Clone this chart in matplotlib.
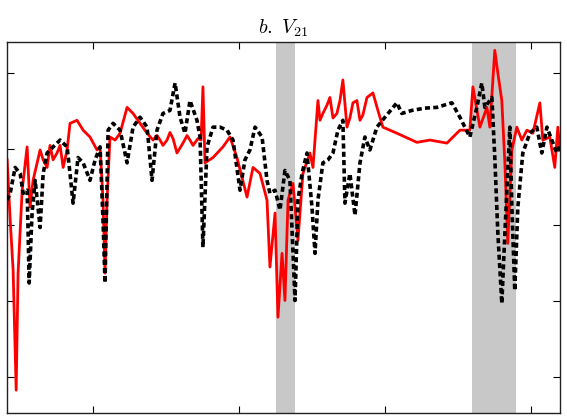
import matplotlib
matplotlib.use("Agg")
import matplotlib.pyplot as plt

plt.rcParams['mathtext.fontset'] = 'cm'

# serie roja (linea continua)
t_rojo = [1974.11, 1974.32, 1974.52, 1974.73, 1974.86, 1975.14, 1975.48, 1975.68, 1975.89, 1976.37,
          1976.58, 1976.85, 1977.05, 1977.26, 1977.53, 1977.74, 1977.95, 1978.22, 1978.42, 1978.90,
          1979.32, 1979.79, 1980.27, 1980.48, 1980.68, 1980.82, 1980.96, 1981.16, 1981.51, 1981.85,
          1982.33, 1982.74, 1983.22, 1983.70, 1984.11, 1984.38, 1984.59, 1984.79, 1985.07, 1985.27,
          1985.48, 1985.75, 1986.16, 1986.44, 1986.64, 1986.85, 1987.19, 1987.40, 1987.53, 1987.67,
          1988.22, 1988.90, 1989.38, 1989.86, 1990.55, 1990.96, 1991.44, 1991.92, 1992.12, 1992.47,
          1992.67, 1992.95, 1993.15, 1993.36, 1993.70, 1994.04, 1994.38, 1994.86, 1995.07, 1995.41,
          1995.55, 1995.75, 1996.03, 1996.23, 1996.44, 1996.71, 1996.92, 1997.12, 1997.40, 1997.60,
          1997.81, 1998.08, 1998.29, 1998.49, 1998.77, 1999.18, 1999.52, 1999.86, 2000.82, 2002.19,
          2003.08, 2004.25, 2005.14, 2005.82, 2006.03, 2006.51, 2006.99, 2007.19, 2007.53, 2007.74,
          2008.01, 2008.22, 2008.42, 2008.70, 2009.04, 2009.38, 2009.73, 2010.14, 2010.62, 2010.82,
          2011.30, 2011.64, 2011.85, 2011.99]
v_rojo = [-0.14, -0.93, -1.59, -3.17, -1.63, -0.54, 0.03, -0.76, -0.41, -0.01,
          -0.14, -0.24, 0.05, -0.14, -0.05, 0.05, -0.24, -0.01, 0.34, 0.38,
          0.25, 0.16, -0.01, 0.03, -0.67, -1.63, -0.67, 0.16, 0.12, 0.21,
          0.55, 0.47, 0.34, 0.21, 0.12, 0.18, 0.12, 0.05, 0.12, 0.22,
          0.14, -0.05, 0.08, 0.18, 0.12, 0.05, 0.14, 0.12, 0.82, -0.18,
          -0.11, 0.03, 0.16, -0.11, -0.63, -0.24, -0.32, -0.67, -1.55, -0.84,
          -2.21, -1.37, -1.99, -0.67, -0.45, -1.20, -0.32, -0.05, -0.24, 0.64,
          0.38, 0.47, 0.58, 0.68, 0.41, 0.47, 0.64, 0.91, 0.29, 0.41,
          0.61, 0.64, 0.38, 0.45, 0.68, 0.74, 0.51, 0.29, 0.21, 0.09,
          0.12, 0.08, 0.25, 0.25, 0.82, 0.29, 0.55, 0.29, 1.30, 1.00,
          0.64, -0.18, -1.24, -0.01, 0.29, 0.12, 0.25, 0.21, 0.61, 0.12,
          0.16, -0.24, 0.29, -0.01]

# serie negra (linea discontinua)
t_negro = [1974.11, 1974.32, 1974.66, 1975.00, 1975.21, 1975.48, 1975.55, 1975.62, 1975.82, 1976.03,
           1976.37, 1976.58, 1976.85, 1977.26, 1977.74, 1978.22, 1978.42, 1978.63, 1978.97, 1979.32,
           1979.79, 1980.14, 1980.48, 1980.68, 1980.82, 1981.03, 1981.37, 1981.85, 1982.33, 1982.74,
           1983.22, 1983.70, 1984.04, 1984.38, 1984.79, 1985.27, 1985.62, 1985.96, 1986.30, 1986.64,
           1987.12, 1987.33, 1987.53, 1987.81, 1988.22, 1988.70, 1989.18, 1989.59, 1990.07, 1990.41,
           1990.75, 1991.10, 1991.58, 1991.92, 1992.12, 1992.47, 1992.81, 1993.15, 1993.49, 1993.84,
           1994.04, 1994.32, 1994.66, 1995.00, 1995.21, 1995.41, 1995.75, 1996.10, 1996.44, 1996.78,
           1997.12, 1997.26, 1997.60, 1997.95, 1998.29, 1998.63, 1998.97, 1999.45, 2000.00, 2000.82,
           2001.16, 2001.85, 2002.74, 2003.56, 2004.59, 2005.14, 2005.82, 2006.30, 2006.64, 2006.85,
           2007.33, 2007.53, 2007.74, 2008.01, 2008.22, 2008.56, 2008.70, 2008.90, 2009.11, 2009.45,
           2009.93, 2010.41, 2010.75, 2011.10, 2011.44, 2011.78, 2011.99]
v_negro = [-0.67, -0.58, -0.24, -0.32, -0.58, -0.54, -1.11, -1.76, -0.84, -0.41,
           -1.03, -0.32, -0.05, 0.03, 0.12, 0.03, -0.32, -0.71, -0.11, -0.18,
           -0.41, -0.14, 0.03, -0.93, -1.76, 0.25, 0.34, 0.25, -0.18, 0.29,
           0.42, 0.29, -0.41, 0.25, 0.47, 0.51, 0.87, 0.42, 0.21, 0.64,
           0.38, 0.16, -1.29, 0.03, 0.29, 0.29, 0.25, 0.12, -0.54, -0.14,
           -0.01, 0.29, 0.16, -0.41, -0.58, -0.54, -0.80, -0.28, -0.41, -1.99,
           -0.67, -0.32, -0.05, -0.76, -1.37, -0.67, -0.18, -0.14, -0.05, 0.25,
           0.38, -0.71, -0.32, -0.87, -0.18, 0.16, -0.01, 0.29, 0.42, 0.61,
           0.47, 0.51, 0.54, 0.55, 0.61, 0.42, 0.16, 0.55, 0.87, 0.55,
           0.68, -0.11, -1.11, -2.03, -1.11, 0.29, -0.76, -1.86, -0.76, -0.05,
           0.21, 0.29, -0.05, 0.29, 0.12, -0.05, 0.05]

# periodos sombreados
sombras = [(1992.53, 1993.84), (2005.96, 2008.97)]

fig = plt.figure(figsize=(5.67, 4.19), dpi=100)
ax = fig.add_axes([0.0123, 0.0143, 0.9754, 0.8855])

for ini, fin in sombras:
    ax.axvspan(ini, fin, color='#c8c8c8', lw=0, zorder=0)

ax.plot(t_rojo, v_rojo, color='red', lw=2.0, zorder=2)
ax.plot(t_negro, v_negro, color='black', lw=2.6, linestyle=(0, (1.4, 0.9)), zorder=3)

ax.set_xlim(1974.1, 2012.0)
ax.set_ylim(-3.47, 1.41)
ax.set_xticks([1980, 1990, 2000, 2010])
ax.set_yticks([1, 0, -1, -2, -3])
ax.tick_params(direction='in', length=5, width=0.8, top=True, right=True,
               labelbottom=False, labelleft=False)
for s in ax.spines.values():
    s.set_linewidth(1.0)
    s.set_color('#222222')

ax.set_title(r'$b.\ V_{21}$', fontsize=14.5, pad=6)

fig.savefig('out.png', dpi=100)
